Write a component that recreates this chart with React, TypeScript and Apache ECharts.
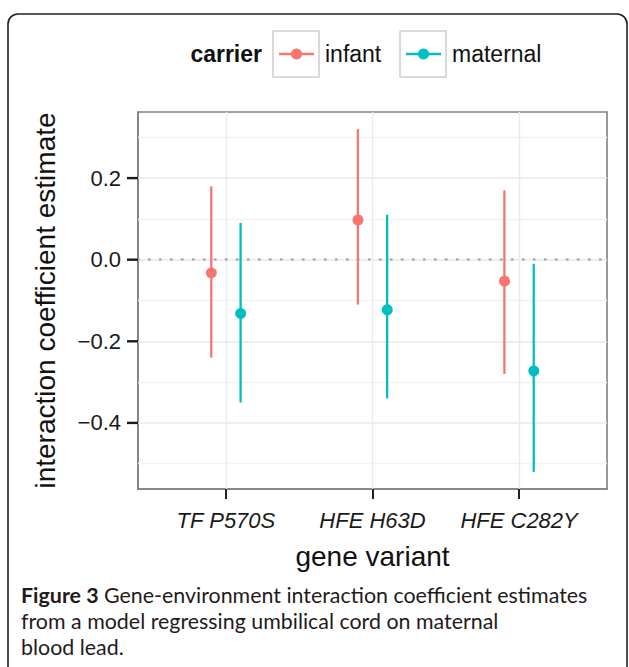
import React, { useEffect, useRef } from "react";
import * as echarts from "echarts";

// ---- data ----
const categories = ["TF P570S", "HFE H63D", "HFE C282Y"];
const infantEstimate = [-0.03, 0.1, -0.05];
const infantLower = [-0.24, -0.11, -0.28];
const infantUpper = [0.18, 0.32, 0.17];
const maternalEstimate = [-0.13, -0.12, -0.27];
const maternalLower = [-0.35, -0.34, -0.52];
const maternalUpper = [0.09, 0.11, -0.01];
const yTicks = [-0.4, -0.2, 0, 0.2];
const yMinorTicks = [-0.5, -0.3, -0.1, 0.1, 0.3];
const carriers = ["infant", "maternal"];

const INFANT = "#F8766D";
const MATERNAL = "#00BFC4";
const FONT = "'Liberation Sans', Arial, Helvetica, sans-serif";
const CAPTION_FONT = "Lato, 'Open Sans', sans-serif";
const DODGE = 0.1;
const X_MIN = 0.4;
const X_MAX = 3.6;

function buildData(est: number[], lo: number[], hi: number[], off: number) {
  return categories.map((_, i) => [i + 1 + off, est[i], lo[i], hi[i]]);
}

function errorRenderer(color: string) {
  return (params: any, api: any) => {
    const x = api.value(0);
    const pE = api.coord([x, api.value(1)]);
    const pL = api.coord([x, api.value(2)]);
    const pH = api.coord([x, api.value(3)]);
    return {
      type: "group",
      children: [
        {
          type: "line",
          shape: { x1: pL[0], y1: pL[1], x2: pH[0], y2: pH[1] },
          style: { stroke: color, lineWidth: 2.3 },
        },
        {
          type: "circle",
          shape: { cx: pE[0], cy: pE[1], r: 5.5 },
          style: { fill: color },
        },
      ],
    };
  };
}

export default function App() {
  const ref = useRef<HTMLDivElement>(null);
  useEffect(() => {
    if (!ref.current) return;
    const chart = echarts.init(ref.current, null, { renderer: "svg" });
    const allLo = Math.min(...infantLower, ...maternalLower);
    const allHi = Math.max(...infantUpper, ...maternalUpper);
    const span = allHi - allLo;
    const yMin = allLo - 0.05 * span;
    const yMax = allHi + 0.05 * span;
    const fmtY = (v: number) => {
      const s = Math.abs(v).toFixed(1);
      return v < -1e-9 ? "\u2212" + s : s;
    };

    const gridLines: any[] = [];
    yMinorTicks.forEach((v) =>
      gridLines.push({ yAxis: v, lineStyle: { color: "#f3f3f3", width: 1.3, type: "solid" } })
    );
    yTicks.forEach((v) =>
      gridLines.push({ yAxis: v, lineStyle: { color: "#e9e9e9", width: 1.5, type: "solid" } })
    );
    categories.forEach((_, i) =>
      gridLines.push({ xAxis: i + 1, lineStyle: { color: "#ebebeb", width: 1.4, type: "solid" } })
    );

    const legendY = 54;
    const staticGraphics: any[] = [
      {
        id: "frame",
        type: "rect",
        z: -10,
        silent: true,
        shape: { x: 8, y: 14, width: 619, height: 700, r: 10 },
        style: { fill: "none", stroke: "#231f20", lineWidth: 1.6 },
      },
      {
        id: "legend-title",
        type: "text",
        x: 262,
        y: legendY,
        style: {
          text: "carrier",
          fontFamily: FONT,
          fontSize: 23,
          fontWeight: "bold",
          fill: "#111",
          align: "right",
          verticalAlign: "middle",
        },
      },
      ...[
        { x: 273, color: INFANT, label: carriers[0] },
        { x: 400, color: MATERNAL, label: carriers[1] },
      ].flatMap((k, i) => [
        {
          id: "lg-box-" + i,
          type: "rect",
          shape: { x: k.x, y: 31, width: 46, height: 46 },
          style: { fill: "#ffffff", stroke: "#d0d0d0", lineWidth: 1.6 },
        },
        {
          id: "lg-line-" + i,
          type: "line",
          shape: { x1: k.x + 6, y1: legendY, x2: k.x + 41, y2: legendY },
          style: { stroke: k.color, lineWidth: 2.3 },
        },
        {
          id: "lg-dot-" + i,
          type: "circle",
          shape: { cx: k.x + 23.5, cy: legendY, r: 5.5 },
          style: { fill: k.color },
        },
        {
          id: "lg-text-" + i,
          type: "text",
          x: k.x + 52,
          y: legendY,
          style: {
            text: k.label,
            fontFamily: FONT,
            fontSize: 23,
            fill: "#111",
            align: "left",
            verticalAlign: "middle",
          },
        },
      ]),
      {
        id: "caption",
        type: "text",
        x: 21,
        y: 582,
        style: {
          text:
            "{b|Figure 3} Gene-environment interaction coefficient estimates\nfrom a model regressing umbilical cord on maternal\nblood lead.",
          fontFamily: CAPTION_FONT,
          fontSize: 21.4,
          lineHeight: 26,
          fill: "#1f1b1c",
          rich: {
            b: {
              fontFamily: CAPTION_FONT,
              fontSize: 21.4,
              lineHeight: 26,
              fontWeight: "bold",
              fill: "#1f1b1c",
            },
          },
        },
      },
    ];

    const option: any = {
      animation: false,
      backgroundColor: "#ffffff",
      grid: {
        left: 138,
        right: 22,
        top: 112,
        bottom: 178,
        show: true,
        borderColor: "#808080",
        borderWidth: 1.6,
        backgroundColor: "#ffffff",
      },
      xAxis: {
        type: "value",
        min: X_MIN,
        max: X_MAX,
        name: "gene variant",
        nameLocation: "middle",
        nameGap: 53,
        nameTextStyle: { fontFamily: FONT, fontSize: 28, color: "#111" },
        axisLine: { show: true, onZero: false, lineStyle: { color: "#808080", width: 1.6 } },
        axisTick: {
          show: true,
          customValues: [1, 2, 3],
          length: 10,
          lineStyle: { color: "#222", width: 2 },
        },
        axisLabel: {
          customValues: [1, 2, 3],
          formatter: (v: number) => categories[Math.round(v) - 1] || "",
          fontFamily: FONT,
          fontSize: 22,
          fontStyle: "italic",
          color: "#1a1a1a",
          margin: 20,
        },
        splitLine: { show: false },
      },
      yAxis: {
        type: "value",
        min: yMin,
        max: yMax,
        name: "interaction coefficient estimate",
        nameLocation: "middle",
        nameGap: 79,
        nameTextStyle: { fontFamily: FONT, fontSize: 28, color: "#111" },
        axisLine: { show: true, onZero: false, lineStyle: { color: "#808080", width: 1.6 } },
        axisTick: { show: false },
        axisLabel: {
          customValues: yTicks,
          formatter: fmtY,
          fontFamily: FONT,
          fontSize: 22,
          color: "#1a1a1a",
          margin: 17,
        },
        splitLine: { show: false },
      },
      series: [
        {
          type: "line",
          data: [],
          z: 1,
          silent: true,
          markLine: {
            silent: true,
            symbol: ["none", "none"],
            label: { show: false },
            data: gridLines,
          },
        },
        {
          type: "line",
          data: [],
          z: 2,
          silent: true,
          markLine: {
            silent: true,
            symbol: ["none", "none"],
            label: { show: false },
            data: [
              {
                yAxis: 0,
                lineStyle: { color: "#a8a8a8", width: 2.6, type: [0.5, 10.5], cap: "round" },
              },
            ],
          },
        },
        {
          name: carriers[0],
          type: "custom",
          z: 5,
          renderItem: errorRenderer(INFANT),
          encode: { x: 0, y: [1, 2, 3] },
          data: buildData(infantEstimate, infantLower, infantUpper, -DODGE),
        },
        {
          name: carriers[1],
          type: "custom",
          z: 5,
          renderItem: errorRenderer(MATERNAL),
          encode: { x: 0, y: [1, 2, 3] },
          data: buildData(maternalEstimate, maternalLower, maternalUpper, DODGE),
        },
      ],
      graphic: staticGraphics,
    };
    chart.setOption(option);

    // y-axis tick marks, positioned through the chart's own y scale
    const tickGraphics = yTicks.map((v, i) => {
      const p = chart.convertToPixel({ gridIndex: 0 }, [X_MIN, v]) as number[];
      return {
        id: "ytick-" + i,
        type: "rect",
        z: 20,
        silent: true,
        shape: { x: p[0] - 11, y: p[1] - 1.2, width: 11, height: 2.4 },
        style: { fill: "#1a1a1a" },
      };
    });
    chart.setOption({ graphic: [...staticGraphics, ...tickGraphics] });

    return () => chart.dispose();
  }, []);
  return (
    <div
      ref={ref}
      style={{ position: "fixed", left: 0, top: 0, width: 629, height: 667, background: "#fff" }}
    />
  );
}
